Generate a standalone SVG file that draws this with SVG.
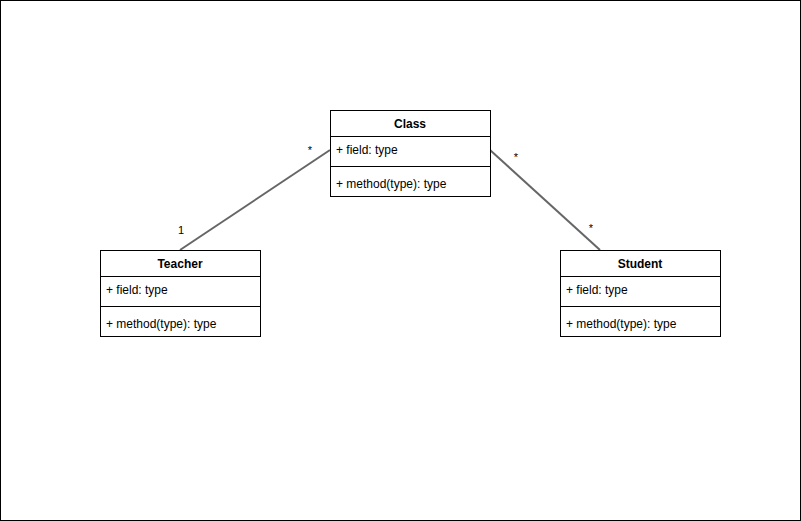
<svg xmlns="http://www.w3.org/2000/svg" width="801" height="521" viewBox="0 0 801 521">
<style>
.box{fill:#fff;stroke:#000;stroke-width:1}
.div{stroke:#000;stroke-width:1}
.t{font-family:"Liberation Sans",Arial,sans-serif;font-size:12px;fill:#000}
.h{font-weight:bold;text-anchor:middle}
.edge{stroke:#666;stroke-width:2;fill:none}
.lbl{font-family:"Liberation Sans",Arial,sans-serif;font-size:11px;fill:#000;text-anchor:middle}
</style>
<rect x="0.5" y="0.5" width="800" height="520" fill="#fff" stroke="#000"/>
<g id="connectors">
<line class="edge" x1="180" y1="250" x2="330" y2="150"/>
<line class="edge" x1="490" y1="150" x2="600" y2="250"/>
<text class="lbl" x="310" y="154">*</text>
<text class="lbl" x="181" y="234">1</text>
<text class="lbl" x="516" y="161">*</text>
<text class="lbl" x="591" y="232">*</text>
</g>
<g id="class">
<rect class="box" x="330.5" y="110.5" width="160" height="86"/>
<line class="div" x1="330.5" y1="136.5" x2="490.5" y2="136.5"/>
<line class="div" x1="330.5" y1="166.5" x2="490.5" y2="166.5"/>
<text class="t h" x="410" y="128">Class</text>
<text class="t" x="336" y="154">+ field: type</text>
<text class="t" x="336" y="188">+ method(type): type</text>
</g>
<g id="teacher">
<rect class="box" x="100.5" y="250.5" width="160" height="86"/>
<line class="div" x1="100.5" y1="276.5" x2="260.5" y2="276.5"/>
<line class="div" x1="100.5" y1="306.5" x2="260.5" y2="306.5"/>
<text class="t h" x="180" y="268">Teacher</text>
<text class="t" x="106" y="294">+ field: type</text>
<text class="t" x="106" y="328">+ method(type): type</text>
</g>
<g id="student">
<rect class="box" x="560.5" y="250.5" width="160" height="86"/>
<line class="div" x1="560.5" y1="276.5" x2="720.5" y2="276.5"/>
<line class="div" x1="560.5" y1="306.5" x2="720.5" y2="306.5"/>
<text class="t h" x="640" y="268">Student</text>
<text class="t" x="566" y="294">+ field: type</text>
<text class="t" x="566" y="328">+ method(type): type</text>
</g>
</svg>
